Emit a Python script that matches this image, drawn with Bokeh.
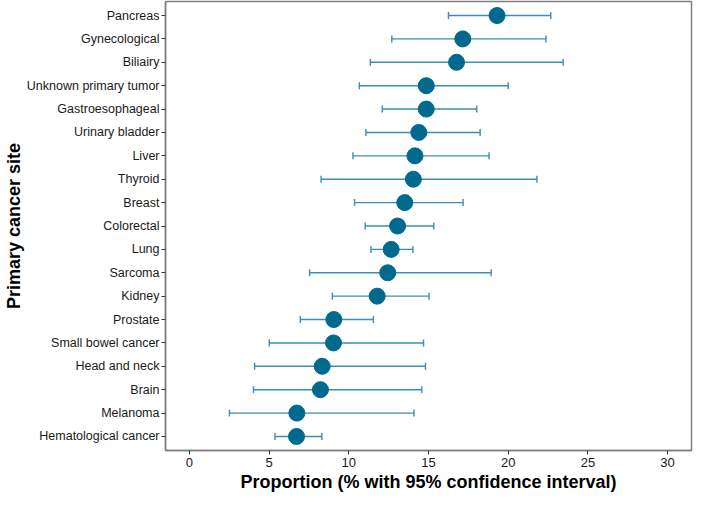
from bokeh.plotting import figure
from bokeh.models import ColumnDataSource, Whisker, TeeHead, FactorRange, Range1d, FixedTicker
from bokeh.embed import file_html
from bokeh.resources import INLINE

sites = ["Pancreas", "Gynecological", "Biliairy", "Unknown primary tumor", "Gastroesophageal",
         "Urinary bladder", "Liver", "Thyroid", "Breast", "Colorectal", "Lung", "Sarcoma",
         "Kidney", "Prostate", "Small bowel cancer", "Head and neck", "Brain", "Melanoma",
         "Hematological cancer"]
proportion = [19.3, 17.15, 16.76, 14.86, 14.86, 14.39, 14.15, 14.05, 13.51, 13.06, 12.66, 12.44,
              11.78, 9.06, 9.04, 8.33, 8.22, 6.74, 6.72]
ci_low = [16.25, 12.70, 11.35, 10.66, 12.10, 11.07, 10.26, 8.26, 10.36, 11.03, 11.39, 7.54,
          8.97, 6.96, 5.01, 4.09, 4.02, 2.51, 5.37]
ci_high = [22.67, 22.37, 23.45, 20.0, 18.03, 18.24, 18.80, 21.80, 17.17, 15.33, 14.02, 18.93,
           15.03, 11.54, 14.69, 14.81, 14.58, 14.09, 8.31]
x_ticks = [0, 5, 10, 15, 20, 25, 30]

src = ColumnDataSource(dict(site=sites, p=proportion, lo=ci_low, hi=ci_high))

p = figure(width=693, height=494, output_backend="svg", toolbar_location=None,
           y_range=FactorRange(factors=sites[::-1], range_padding=0.1, range_padding_units="absolute"),
           x_range=Range1d(-1.5, 31.5),
           min_border_left=140, min_border_right=2, min_border_top=1, min_border_bottom=30)

err_color = "#3a8db5"
pt_color = "#006a8e"
w = Whisker(source=src, base="site", lower="lo", upper="hi", dimension="width",
            line_color=err_color, line_width=1.4,
            lower_head=TeeHead(size=7, line_color=err_color, line_width=1.4),
            upper_head=TeeHead(size=7, line_color=err_color, line_width=1.4))
p.add_layout(w)
p.scatter(x="p", y="site", source=src, size=16, fill_color=pt_color, line_color=pt_color)

p.xgrid.visible = False
p.ygrid.visible = False
p.outline_line_color = "#7f7f7f"
p.outline_line_width = 1.5

p.xaxis.ticker = FixedTicker(ticks=x_ticks)
p.xaxis.axis_label = "Proportion (% with 95% confidence interval)"
p.yaxis.axis_label = "Primary cancer site"
for ax in (p.xaxis[0], p.yaxis[0]):
    ax.axis_line_color = "#7f7f7f"
    ax.axis_line_width = 1.5
    ax.major_tick_line_color = "#333333"
    ax.major_tick_in = 0
    ax.major_tick_out = 4
    ax.minor_tick_line_color = None
    ax.major_label_text_font = "Liberation Sans"
    ax.major_label_text_font_size = "12.5px"
    ax.major_label_text_color = "#1a1a1a"
    ax.axis_label_text_font = "Liberation Sans"
    ax.axis_label_text_font_size = "18px"
    ax.axis_label_text_font_style = "bold"
    ax.axis_label_text_color = "black"
p.xaxis.major_label_text_font_size = "13px"
p.xaxis.major_label_standoff = 3
p.xaxis.axis_label_standoff = 2
p.yaxis.major_label_standoff = 2
p.yaxis.axis_label_standoff = 0

open("out.html", "w").write(file_html(p, INLINE))
